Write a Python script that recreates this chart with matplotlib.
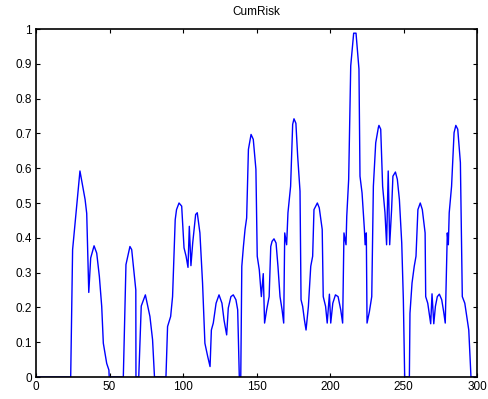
import matplotlib
matplotlib.use("Agg")
import matplotlib.pyplot as plt

title = "CumRisk"
x_ticks = [0, 50, 100, 150, 200, 250, 300]
y_ticks = [0, 0.1, 0.2, 0.3, 0.4, 0.5, 0.6, 0.7, 0.8, 0.9, 1]
y_tick_labels = ["0", "0.1", "0.2", "0.3", "0.4", "0.5", "0.6", "0.7", "0.8", "0.9", "1"]

t = [0, 23.6, 24.9, 29.9, 33.4, 34.5, 35.9, 37.2, 39.5, 41.3, 43.1, 44.7, 45.8,
     48.1, 49.6, 49.8, 59.4, 61.2, 63.9, 65.1, 67.3, 67.9, 68.0, 69.9, 71.6,
     74.4, 77.5, 79.3, 80.2, 80.6, 88.4, 89.5, 91.6, 92.9, 94.7, 95.6, 97.3,
     99.1, 100.7, 102.1, 103.4, 104.3, 105.4, 106.6, 108.6, 109.7, 111.5,
     113.3, 114.9, 116.8, 118.4, 119.3, 120.6, 122.5, 124.5, 126.5, 127.9,
     129.7, 130.8, 132.6, 134.2, 136.0, 137.2, 138.3, 139.3, 140.0, 141.1,
     142.2, 143.3, 144.5, 146.3, 147.8, 149.6, 150.5, 151.9, 153.3, 154.6,
     155.5, 156.9, 158.6, 159.7, 160.6, 161.9, 163.3, 164.6, 166.0, 167.4,
     168.5, 169.2, 170.5, 171.4, 173.2, 174.6, 175.5, 176.8, 178.0, 179.6,
     180.3, 181.4, 182.6, 183.7, 185.3, 186.9, 188.2, 189.1, 191.4, 192.7,
     194.7, 195.4, 197.0, 198.1, 199.6, 200.5, 201.9, 203.7, 205.5, 207.3,
     208.6, 209.5, 210.9, 211.4, 212.7, 214.1, 216.1, 217.7, 219.7, 220.4,
     221.8, 223.4, 223.9, 224.7, 225.2, 226.8, 228.4, 229.5, 231.1, 232.9,
     233.3, 234.5, 235.8, 237.4, 238.5, 239.6, 240.6, 241.9, 242.8, 244.5,
     245.8, 247.2, 248.8, 249.9, 250.8, 254.0, 254.4, 255.8, 257.3, 258.5,
     259.8, 261.4, 262.8, 264.7, 265.1, 266.5, 268.5, 269.4, 270.6, 271.7,
     273.0, 274.4, 276.0, 277.3, 278.4, 279.8, 280.5, 281.1, 282.7, 284.4,
     285.6, 286.9, 288.7, 290.0, 291.7, 293.0, 294.4, 295.9, 300]
cumrisk = [0, 0, 0.366, 0.592, 0.51, 0.47, 0.243, 0.342, 0.377, 0.356, 0.289,
           0.203, 0.097, 0.039, 0.02, 0, 0, 0.323, 0.375, 0.366, 0.275, 0.25,
           0, 0, 0.204, 0.236, 0.174, 0.107, 0.03, 0, 0, 0.145, 0.174, 0.231,
           0.452, 0.481, 0.5, 0.491, 0.371, 0.347, 0.315, 0.433, 0.32, 0.385,
           0.467, 0.472, 0.414, 0.27, 0.097, 0.059, 0.03, 0.135, 0.155, 0.212,
           0.236, 0.212, 0.164, 0.121, 0.198, 0.231, 0.236, 0.222, 0.193, 0,
           0, 0.318, 0.375, 0.424, 0.457, 0.654, 0.697, 0.683, 0.597, 0.347,
           0.308, 0.231, 0.297, 0.155, 0.193, 0.231, 0.375, 0.39, 0.397, 0.385,
           0.318, 0.231, 0.193, 0.155, 0.414, 0.38, 0.472, 0.548, 0.726, 0.742,
           0.729, 0.635, 0.534, 0.222, 0.203, 0.164, 0.135, 0.203, 0.318,
           0.347, 0.481, 0.5, 0.486, 0.424, 0.231, 0.203, 0.155, 0.238, 0.155,
           0.212, 0.236, 0.231, 0.193, 0.155, 0.414, 0.38, 0.462, 0.568, 0.894,
           0.988, 0.988, 0.885, 0.577, 0.529, 0.424, 0.38, 0.414, 0.155, 0.188,
           0.231, 0.548, 0.673, 0.717, 0.723, 0.712, 0.548, 0.472, 0.38, 0.592,
           0.38, 0.481, 0.577, 0.589, 0.568, 0.51, 0.385, 0.222, 0, 0, 0.183,
           0.27, 0.318, 0.347, 0.481, 0.5, 0.481, 0.414, 0.231, 0.212, 0.153,
           0.239, 0.153, 0.203, 0.231, 0.238, 0.222, 0.188, 0.155, 0.414, 0.38,
           0.472, 0.548, 0.702, 0.723, 0.712, 0.616, 0.231, 0.212, 0.174,
           0.135, 0, 0]

plt.rcParams['font.family'] = ['Liberation Sans', 'DejaVu Sans']

fig = plt.figure(figsize=(4.88, 3.99), dpi=100)
ax = fig.add_axes([36 / 488, 22 / 399, 441 / 488, 348 / 399])
ax.plot(t, cumrisk, color='#0000ff', linewidth=1.0)
ax.set_xlim(0, 300)
ax.set_ylim(0, 1)
ax.set_xticks(x_ticks)
ax.set_xticklabels([str(v) for v in x_ticks])
ax.set_yticks(y_ticks)
ax.set_yticklabels(y_tick_labels)
ax.tick_params(direction='in', length=3, width=0.8, top=True, right=True,
               labelsize=8.5, pad=3, colors='black')
for s in ax.spines.values():
    s.set_linewidth(1.2)
ax.set_title(title, fontsize=8.5, pad=10)
fig.savefig("out.png", dpi=100)
